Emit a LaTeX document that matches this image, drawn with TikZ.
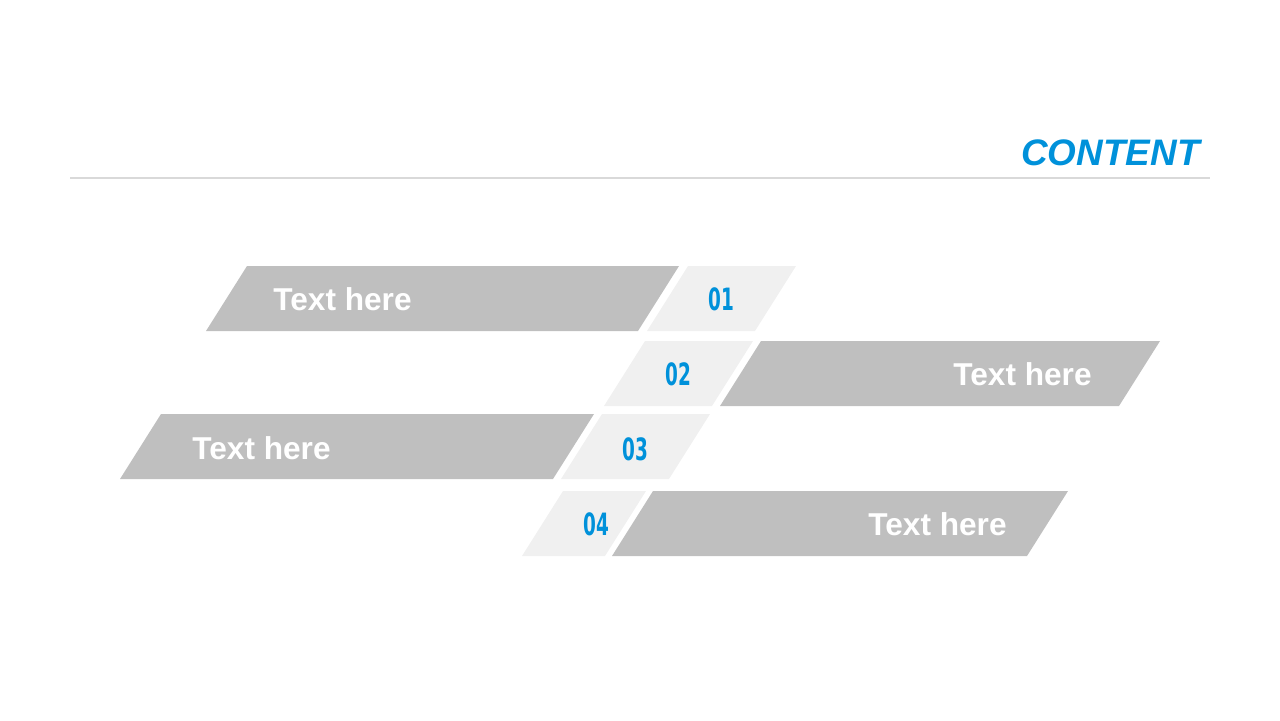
\documentclass[tikz,border=0pt]{standalone}
\usepackage{fontspec}
\setmainfont{Liberation Sans}
\newfontfamily\numfont{DejaVu Sans}
\definecolor{slabgray}{HTML}{BFBFBF}
\definecolor{tabgray}{HTML}{F0F0F0}
\definecolor{numblue}{HTML}{0091DA}
\definecolor{rulegray}{HTML}{D9D9D9}
\tikzset{
  slab/.style={fill=slabgray},
  tab/.style={fill=tabgray},
  slabtext/.style={anchor=west, inner sep=0pt, text=white,
    font=\fontsize{18}{18}\selectfont\bfseries},
  tabnum/.style={inner sep=0pt, text=numblue,
    font=\numfont\fontsize{17.5}{17.5}\selectfont\bfseries}
}
\newcommand{\narrow}[1]{\scalebox{0.6}[1]{#1}}

\begin{document}
\begin{tikzpicture}[x=0.02cm,y=-0.02cm]
    \useasboundingbox (0,0) rectangle (1280,720);

    % title and rule
    \node (T) [anchor=base east, inner sep=0pt, text=numblue,
      font=\fontsize{21}{21}\selectfont\bfseries\itshape] at (1200,165) {CONTENT};
    \coordinate (L1) at (70,178);
    \coordinate (L2) at (1210,178);
    \draw [rulegray, line width=0.8pt] (L1) -- (L2);

    % slanted bars, bottom edge first
    \fill [slab] (206,331) -- (638,331) -- (679,266) -- (247,266) -- cycle;
    \fill [tab]  (647,331) -- (755,331) -- (796,266) -- (688,266) -- cycle;

    \fill [tab]  (604,406) -- (712,406) -- (753,341) -- (645,341) -- cycle;
    \fill [slab] (720,406) -- (1119,406) -- (1160,341) -- (761,341) -- cycle;

    \fill [slab] (120,479) -- (553,479) -- (594,414) -- (161,414) -- cycle;
    \fill [tab]  (561,479) -- (669,479) -- (710,414) -- (602,414) -- cycle;

    \fill [tab]  (522,556) -- (605,556) -- (646,491) -- (563,491) -- cycle;
    \fill [slab] (612,556) -- (1027,556) -- (1068,491) -- (653,491) -- cycle;

    % labels
    \node (A) [slabtext] at (273,299) {Text here};
    \node (B) [slabtext] at (953,374) {Text here};
    \node (C) [slabtext] at (192,448) {Text here};
    \node (D) [slabtext] at (868,524) {Text here};

    \node (N1) [tabnum] at (721,299) {\narrow{01}};
    \node (N2) [tabnum] at (678,374) {\narrow{02}};
    \node (N3) [tabnum] at (635,449) {\narrow{03}};
    \node (N4) [tabnum] at (596,524) {\narrow{04}};

\end{tikzpicture}
\end{document}
